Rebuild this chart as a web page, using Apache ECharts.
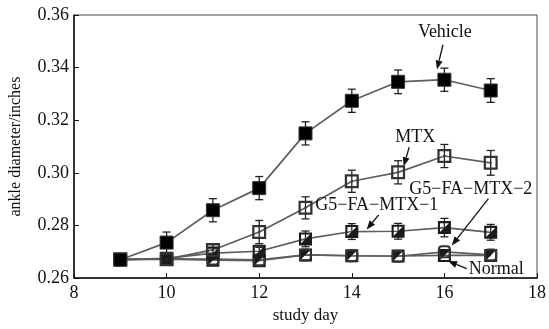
<!DOCTYPE html>
<html>
<head>
<meta charset="utf-8">
<script src="https://cdn.jsdelivr.net/npm/echarts@6/dist/echarts.min.js"></script>
<style>
  html, body { margin: 0; padding: 0; background: #fff; }
  #chart { width: 549px; height: 329px; }
</style>
</head>
<body>
<div id="chart"></div>
<script>
const days = [9, 10, 11, 12, 13, 14, 15, 16, 17];
const vehicle = [0.267, 0.2735, 0.2858, 0.2942, 0.315, 0.3274, 0.3346, 0.3354, 0.3313];
const vehicleErr = [0, 0.004, 0.0044, 0.0044, 0.0044, 0.0044, 0.0045, 0.0044, 0.0045];
const mtx = [0.2672, 0.2672, 0.2707, 0.2775, 0.2867, 0.2968, 0.3002, 0.3064, 0.3038];
const mtxErr = [0, 0, 0.002, 0.0044, 0.0042, 0.0042, 0.0044, 0.0044, 0.0047];
const g5fa1 = [0.267, 0.2675, 0.2695, 0.2702, 0.2749, 0.2777, 0.2778, 0.2792, 0.2774];
const g5fa1Err = [0, 0, 0, 0.0015, 0.003, 0.003, 0.003, 0.0035, 0.003];
const g5fa2 = [0.267, 0.2673, 0.2672, 0.2669, 0.2688, 0.2685, 0.2683, 0.27, 0.2688];
const normal = [0.267, 0.2672, 0.2668, 0.2666, 0.2688, 0.2685, 0.2684, 0.2686, 0.2686];

// label text, text anchor, arrow start, arrow tip (data coords)
const notes = [
  { text: "Vehicle", at: [16.01, 0.3535], from: [15.97, 0.3487], to: [15.84, 0.3393] },
  { text: "MTX", at: [15.37, 0.3135], from: [15.24, 0.3098], to: [15.12, 0.3025] },
  { text: "G5\u2212FA\u2212MTX\u22122", at: [16.57, 0.2938], from: [16.95, 0.2902], to: [16.16, 0.2724] },
  { text: "G5\u2212FA\u2212MTX\u22121", at: [14.54, 0.2876], from: [14.58, 0.284], to: [14.32, 0.2785] },
  { text: "Normal", at: [17.12, 0.2633], from: [16.48, 0.2636], to: [16.08, 0.2665] },
];

const serif = "Liberation Serif";
const lineGray = "#5e5e5e";
const halfSquare = "path://M0,0 L10,0 L10,10 L0,10 Z M1.6,1.6 L1.6,8.4 L8.4,8.4 L8.4,1.6 Z M1.6,8.4 L8.4,1.6 L8.4,8.4 Z";
const halfSquare2 = "path://M0,0 L10,0 L10,10 L0,10 Z M1.6,1.6 L1.6,8.4 L8.4,8.4 L8.4,1.6 Z M1.6,1.6 L8.4,1.6 L1.6,8.4 Z";
const openSquare = "path://M0,0 L10,0 L10,10 L0,10 Z M1.6,1.6 L1.6,8.4 L8.4,8.4 L8.4,1.6 Z M4.3,4.3 L5.7,4.3 L5.7,5.7 L4.3,5.7 Z";
const openRound = "path://M3,0 L7,0 Q10,0 10,3 L10,7 Q10,10 7,10 L3,10 Q0,10 0,7 L0,3 Q0,0 3,0 Z M3,1.6 Q1.6,1.6 1.6,3 L1.6,7 Q1.6,8.4 3,8.4 L7,8.4 Q8.4,8.4 8.4,7 L8.4,3 Q8.4,1.6 7,1.6 Z";

function lineSeries(name, values, symbol, size, fill) {
  return {
    name, type: "line", data: days.map((d, i) => [d, values[i]]),
    symbol, symbolSize: size, z: 3,
    lineStyle: { color: lineGray, width: 1.7 },
    itemStyle: { color: fill, borderColor: "#333", borderWidth: symbol === "rect" ? 1 : 0 },
    emphasis: { disabled: true },
  };
}

function errorSeries(values, errs) {
  return {
    type: "custom", z: 2, silent: true,
    data: days.map((d, i) => [d, values[i] - errs[i], values[i] + errs[i]]).filter((r) => r[2] > r[1]),
    renderItem: (params, api) => {
      const lo = api.coord([api.value(0), api.value(1)]);
      const hi = api.coord([api.value(0), api.value(2)]);
      const w = 4;
      const st = { stroke: "#222", lineWidth: 1.3 };
      return {
        type: "group",
        children: [
          { type: "line", shape: { x1: lo[0], y1: lo[1], x2: hi[0], y2: hi[1] }, style: st },
          { type: "line", shape: { x1: lo[0] - w, y1: lo[1], x2: lo[0] + w, y2: lo[1] }, style: st },
          { type: "line", shape: { x1: hi[0] - w, y1: hi[1], x2: hi[0] + w, y2: hi[1] }, style: st },
        ],
      };
    },
  };
}

const annotationSeries = {
  type: "custom", z: 5, silent: true,
  data: notes.map((n) => [n.at[0], n.at[1], n.from[0], n.from[1], n.to[0], n.to[1]]),
  renderItem: (params, api) => {
    const n = notes[params.dataIndex];
    const p = api.coord([api.value(0), api.value(1)]);
    const a = api.coord([api.value(2), api.value(3)]);
    const b = api.coord([api.value(4), api.value(5)]);
    const ang = Math.atan2(b[1] - a[1], b[0] - a[0]);
    const L = 9, W = 3.5;
    const bx = b[0] - L * Math.cos(ang), by = b[1] - L * Math.sin(ang);
    const nx = -Math.sin(ang) * W, ny = Math.cos(ang) * W;
    return {
      type: "group",
      children: [
        { type: "text", x: p[0], y: p[1], style: { text: n.text, fill: "#111", font: `18px "${serif}"`, align: "center", verticalAlign: "middle" } },
        { type: "line", shape: { x1: a[0], y1: a[1], x2: bx, y2: by }, style: { stroke: "#111", lineWidth: 1.3 } },
        { type: "polygon", shape: { points: [b, [bx + nx, by + ny], [bx - nx, by - ny]] }, style: { fill: "#111" } },
      ],
    };
  },
};

const chart = echarts.init(document.getElementById("chart"), null, { renderer: "canvas" });
chart.setOption({
  animation: false,
  backgroundColor: "#fff",
  grid: { left: 73, right: 8, top: 15, bottom: 39, show: true, borderColor: "#444", borderWidth: 1 },
  xAxis: {
    type: "value", min: 8, max: 18, interval: 2,
    name: "study day", nameLocation: "middle", nameGap: 20,
    nameTextStyle: { fontFamily: serif, fontSize: 17, color: "#111" },
    axisLine: { lineStyle: { color: "#111", width: 1.5 } },
    axisTick: { inside: true, length: 5, lineStyle: { color: "#111" } },
    axisLabel: { fontFamily: serif, fontSize: 18, color: "#111", margin: 6 },
    splitLine: { show: false },
  },
  yAxis: {
    type: "value", min: 0.26, max: 0.36, interval: 0.02,
    name: "ankle diameter/inches", nameLocation: "middle", nameGap: 50,
    nameTextStyle: { fontFamily: serif, fontSize: 16, color: "#111" },
    axisLine: { show: true, lineStyle: { color: "#111", width: 1.5 } },
    axisTick: { show: true, inside: true, length: 5, lineStyle: { color: "#111" } },
    axisLabel: { fontFamily: serif, fontSize: 18, color: "#111", margin: 5, formatter: (v) => v.toFixed(2) },
    splitLine: { show: false },
  },
  series: [
    errorSeries(vehicle, vehicleErr),
    errorSeries(mtx, mtxErr),
    errorSeries(g5fa1, g5fa1Err),
    lineSeries("Normal", normal, halfSquare2, 13, "#1a1a1a"),
    lineSeries("G5-FA-MTX-2", g5fa2, openRound, 13, "#333"),
    lineSeries("G5-FA-MTX-1", g5fa1, halfSquare, 13, "#1a1a1a"),
    lineSeries("MTX", mtx, openSquare, 14, "#333"),
    lineSeries("Vehicle", vehicle, "rect", 13, "#000"),
    annotationSeries,
  ],
});
</script>
</body>
</html>
